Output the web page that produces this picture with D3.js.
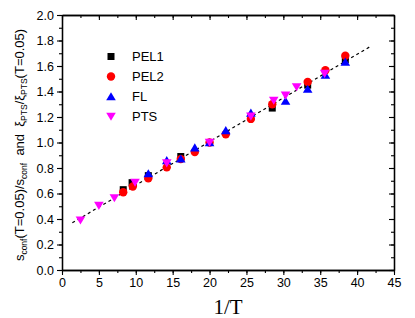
<!DOCTYPE html>
<html>
<head>
<meta charset="utf-8">
<script src="https://cdn.jsdelivr.net/npm/d3@7"></script>
<style>
  body { margin: 0; background: #fff; }
  text { font-family: "Liberation Sans", Arial, sans-serif; }
</style>
</head>
<body>
<svg width="415" height="318"></svg>
<script>
// data: [1/T, ratio]
var pel1 = [[8.3, 0.63], [9.5, 0.685], [11.7, 0.74], [16.1, 0.89], [20.0, 1.0],
            [28.5, 1.27], [33.3, 1.45], [38.4, 1.65]];
var pel2 = [[8.3, 0.61], [9.6, 0.655], [11.7, 0.72], [14.2, 0.805], [16.1, 0.87],
            [18.0, 0.925], [20.0, 1.0], [22.2, 1.065], [25.6, 1.185], [28.5, 1.30],
            [33.3, 1.475], [35.7, 1.567], [38.4, 1.68]];
var fl   = [[11.7, 0.757], [14.2, 0.86], [16.1, 0.872], [18.0, 0.96], [20.0, 1.0],
            [22.2, 1.095], [25.6, 1.232], [30.3, 1.325], [33.3, 1.42], [35.7, 1.53],
            [38.4, 1.632]];
var pts  = [[2.5, 0.39], [5.0, 0.505], [7.1, 0.565], [9.9, 0.686], [14.2, 0.838],
            [20.0, 1.0], [25.6, 1.205], [28.7, 1.33], [30.3, 1.37], [31.8, 1.435],
            [35.6, 1.54]];
var fitLine = [[1.4, 0.37], [41.7, 1.75]];

var seriesNames = ["PEL1", "PEL2", "FL", "PTS"];
var xTicks = [0, 5, 10, 15, 20, 25, 30, 35, 40, 45];
var yTicks = [0.0, 0.2, 0.4, 0.6, 0.8, 1.0, 1.2, 1.4, 1.6, 1.8, 2.0];

var svg = d3.select("svg");
var margin = {top: 15, right: 21, bottom: 48, left: 62},
    width = 415 - margin.left - margin.right,
    height = 318 - margin.top - margin.bottom;

var xScale = d3.scaleLinear().domain([0, 45]).range([0, width]),
    yScale = d3.scaleLinear().domain([0, 2]).range([height, 0]);

var g = svg.append("g")
    .attr("transform", "translate(" + margin.left + "," + margin.top + ")");

// minor ticks
var xMinor = d3.range(0, 45.1, 2.5), yMinor = d3.range(0, 2.01, 0.1);

function styleAxis(sel) {
  sel.select(".domain").attr("stroke", "#000").attr("stroke-width", 1.3);
  sel.selectAll(".tick line").attr("stroke", "#000").attr("stroke-width", 1.1);
  sel.selectAll(".tick text").style("font-size", "12.5px").attr("fill", "#000");
}

// bottom
g.append("g").attr("transform", "translate(0," + height + ")")
  .call(d3.axisBottom(xScale).tickValues(xMinor).tickSize(3).tickSizeOuter(0).tickFormat(""))
  .call(styleAxis);
g.append("g").attr("transform", "translate(0," + height + ")")
  .call(d3.axisBottom(xScale).tickValues(xTicks).tickSize(5).tickSizeOuter(0).tickPadding(3).tickFormat(d3.format("d")))
  .call(styleAxis);
// top
g.append("g")
  .call(d3.axisTop(xScale).tickValues(xMinor).tickSize(-3).tickSizeOuter(0).tickFormat(""))
  .call(styleAxis);
g.append("g")
  .call(d3.axisTop(xScale).tickValues(xTicks).tickSize(-5).tickSizeOuter(0).tickFormat(""))
  .call(styleAxis);
// left
g.append("g")
  .call(d3.axisLeft(yScale).tickValues(yMinor).tickSize(3).tickSizeOuter(0).tickFormat(""))
  .call(styleAxis);
g.append("g")
  .call(d3.axisLeft(yScale).tickValues(yTicks).tickSize(5).tickSizeOuter(0).tickPadding(3).tickFormat(d3.format(".1f")))
  .call(styleAxis);
// right
g.append("g").attr("transform", "translate(" + width + ",0)")
  .call(d3.axisRight(yScale).tickValues(yMinor).tickSize(-3).tickSizeOuter(0).tickFormat(""))
  .call(styleAxis);
g.append("g").attr("transform", "translate(" + width + ",0)")
  .call(d3.axisRight(yScale).tickValues(yTicks).tickSize(-5).tickSizeOuter(0).tickFormat(""))
  .call(styleAxis);

// dashed fit line
var line = d3.line()
  .x(function(d) { return xScale(d[0]); })
  .y(function(d) { return yScale(d[1]); });
g.append("path")
  .datum(fitLine)
  .attr("d", line)
  .style("fill", "none")
  .style("stroke", "#000")
  .style("stroke-width", 1.2)
  .style("stroke-dasharray", "3,3");

// marker shapes
function marker(sel, type, color) {
  if (type === "square") {
    sel.append("rect").attr("x", -3.5).attr("y", -3.5).attr("width", 7).attr("height", 7).attr("fill", color);
  } else if (type === "circle") {
    sel.append("circle").attr("r", 4.2).attr("fill", color);
  } else if (type === "up") {
    sel.append("path").attr("d", "M0,-4.3L4.8,3.8L-4.8,3.8Z").attr("fill", color);
  } else {
    sel.append("path").attr("d", "M0,4.3L4.8,-3.8L-4.8,-3.8Z").attr("fill", color);
  }
}

var series = [
  {name: seriesNames[0], data: pel1, type: "square", color: "#000000"},
  {name: seriesNames[1], data: pel2, type: "circle", color: "#ff0000"},
  {name: seriesNames[2], data: fl,   type: "up",     color: "#0000ff"},
  {name: seriesNames[3], data: pts,  type: "down",   color: "#ff00ff"}
];

series.forEach(function(s) {
  g.append("g").selectAll("g")
    .data(s.data)
    .enter()
    .append("g")
    .attr("transform", function(d) { return "translate(" + xScale(d[0]) + "," + yScale(d[1]) + ")"; })
    .each(function() { marker(d3.select(this), s.type, s.color); });
});

// legend
series.forEach(function(s, i) {
  var row = svg.append("g").attr("transform", "translate(111," + (56.5 + i * 20) + ")");
  marker(row, s.type, s.color);
  row.append("text").attr("x", 21).attr("y", 4.5).style("font-size", "13px").text(s.name);
});

// x label
svg.append("text")
  .attr("x", margin.left + width / 2)
  .attr("y", 314)
  .attr("text-anchor", "middle")
  .style("font-family", "'Liberation Serif', 'Times New Roman', serif")
  .style("font-size", "21px")
  .text("1/T");

// y label with subscripts
var yl = svg.append("text")
  .attr("text-anchor", "middle")
  .attr("transform", "translate(24,145)rotate(-90)")
  .style("font-size", "13px");
var parts = [["s", 0], ["conf", 1], ["(T=0.05)/s", 0], ["conf", 1], ["  and  ", 0], ["ξ", 0],
             ["PTS", 1], ["/ξ", 0], ["PTS", 1], ["(T=0.05)", 0]];
var prev = 0;
parts.forEach(function(p) {
  var shift = p[1] ? 3 : 0;
  yl.append("tspan")
    .attr("dy", shift - prev)
    .style("font-size", p[1] ? "8.5px" : "13px")
    .style("white-space", "pre")
    .text(p[0]);
  prev = shift;
});
</script>
</body>
</html>
